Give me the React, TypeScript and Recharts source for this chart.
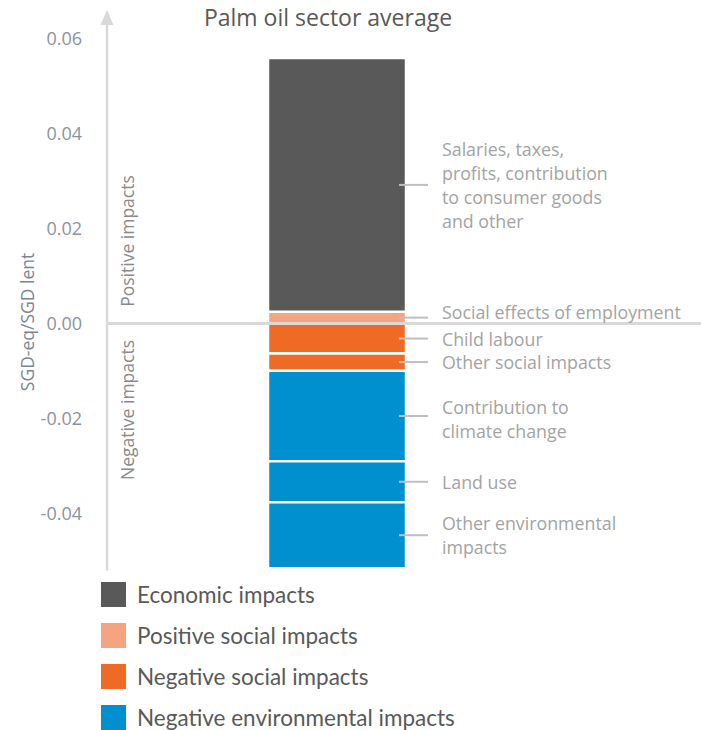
import React from 'react';
import { BarChart, Bar, XAxis, YAxis, ReferenceLine, LabelList } from 'recharts';

// ---- data ----
const categories = ['Palm oil sector average'];
const segmentKeys = ['socialEmployment', 'economic', 'childLabour', 'otherSocial', 'climate', 'landUse', 'otherEnv'];
const segmentValues = [0.0025, 0.0534, -0.0063, -0.0036, -0.0191, -0.0086, -0.0139];
const segmentGroups = [
  'Positive social impacts',
  'Economic impacts',
  'Negative social impacts',
  'Negative social impacts',
  'Negative environmental impacts',
  'Negative environmental impacts',
  'Negative environmental impacts',
];
const segmentLabels = [
  ['Social effects of employment'],
  ['Salaries, taxes,', 'profits, contribution', 'to consumer goods', 'and other'],
  ['Child labour'],
  ['Other social impacts'],
  ['Contribution to', 'climate change'],
  ['Land use'],
  ['Other environmental', 'impacts'],
];
const legendGroups = ['Economic impacts', 'Positive social impacts', 'Negative social impacts', 'Negative environmental impacts'];
const yTicks = [-0.04, -0.02, 0, 0.02, 0.04, 0.06];
const yDomain = [-0.052, 0.0656];

// ---- styles ----
const groupColors: Record<string, string> = {
  'Economic impacts': '#595959',
  'Positive social impacts': '#F4A47E',
  'Negative social impacts': '#EE6A25',
  'Negative environmental impacts': '#008FCF',
};
const labelTextDy = [-6, 0, 0, 0, 3, 0, 0];
const FONT = '"Open Sans", "DejaVu Sans", sans-serif';
const LEGEND_FONT = 'Lato, "Open Sans", sans-serif';

const row: Record<string, any> = { name: categories[0] };
segmentKeys.forEach((k, i) => (row[k] = segmentValues[i]));
const data = [row];

function SegmentLabel(props: any) {
  const { lines, dy } = props;
  const vb = props.viewBox && props.viewBox.width != null ? props.viewBox : props;
  const x = Number(vb.x), y = Number(vb.y), width = Number(vb.width), height = Number(vb.height);
  if (!isFinite(x) || !isFinite(y)) return null;
  const right = x + width;
  const midY = y + height / 2;
  const lh = 24;
  const textTop = midY + dy - ((lines.length - 1) * lh) / 2;
  return (
    <g>
      <line x1={right - 7} x2={right + 22} y1={midY} y2={midY} stroke="#bfbfbf" strokeWidth={2} />
      <text fill="#a3a3a3" fontSize={17.8} fontFamily={FONT} dominantBaseline="central">
        {lines.map((l: string, i: number) => (
          <tspan key={i} x={right + 36} y={textTop + i * lh}>
            {l}
          </tspan>
        ))}
      </text>
    </g>
  );
}

function AxisDecor(props: any) {
  const vb = props.viewBox || {};
  const axisX = vb.width != null ? vb.x + vb.width : 107;
  const top = vb.y != null ? vb.y : 12;
  return (
    <g>
      <polygon points={`${axisX},${top - 2} ${axisX - 6.5},${top + 13} ${axisX + 6.5},${top + 13}`} fill="#d9d9d9" />
      <text
        x={27}
        y={322}
        transform="rotate(-90 27 322)"
        textAnchor="middle"
        dominantBaseline="central"
        fill="#7d8590"
        fontSize={17.5}
        fontFamily={FONT}
      >
        SGD-eq/SGD lent
      </text>
      <text
        x={127}
        y={241}
        transform="rotate(-90 127 241)"
        textAnchor="middle"
        dominantBaseline="central"
        fill="#8a8a8a"
        fontSize={17.5}
        fontFamily={FONT}
      >
        Positive impacts
      </text>
      <text
        x={127}
        y={410}
        transform="rotate(-90 127 410)"
        textAnchor="middle"
        dominantBaseline="central"
        fill="#8a8a8a"
        fontSize={17.5}
        fontFamily={FONT}
      >
        Negative impacts
      </text>
      <text x={328} y={17} textAnchor="middle" dominantBaseline="central" fill="#595959" fontSize={23} fontFamily={FONT}>
        {categories[0]}
      </text>
    </g>
  );
}

export default function App() {
  return (
    <div style={{ position: 'absolute', left: 0, top: 0, width: 701, height: 730, background: '#fff', overflow: 'hidden' }}>
      <BarChart
        width={701}
        height={730}
        data={data}
        stackOffset="sign"
        barSize={138}
        margin={{ top: 12, right: 0, bottom: 159.4, left: 0 }}
      >
        <XAxis dataKey="name" hide padding={{ left: 0, right: 134 }} />
        <YAxis
          type="number"
          domain={yDomain}
          allowDataOverflow
          ticks={yTicks}
          width={107}
          tickSize={0}
          tickMargin={25}
          tickLine={false}
          axisLine={{ stroke: '#d9d9d9', strokeWidth: 2.5 }}
          tick={{ fill: '#8a93a0', fontSize: 18, fontFamily: FONT }}
          tickFormatter={(v: number) => v.toFixed(2)}
          label={<AxisDecor />}
        />
        {segmentKeys.map((k, i) => (
          <Bar
            key={k}
            dataKey={k}
            name={segmentLabels[i].join(' ')}
            stackId="a"
            fill={groupColors[segmentGroups[i]]}
            stroke="#ffffff"
            strokeWidth={2.5}
            isAnimationActive={false}
          >
            <LabelList dataKey={k} content={(p: any) => <SegmentLabel {...p} lines={segmentLabels[i]} dy={labelTextDy[i]} />} />
          </Bar>
        ))}
        <ReferenceLine y={0} stroke="#d9d9d9" strokeWidth={3} ifOverflow="visible" />
      </BarChart>
      <div style={{ position: 'absolute', left: 101, top: 573.5 }}>
        {legendGroups.map((g) => (
          <div key={g} style={{ display: 'flex', alignItems: 'center', height: 41 }}>
            <div style={{ width: 25, height: 25, background: groupColors[g], marginRight: 11, flexShrink: 0 }} />
            <span style={{ fontFamily: LEGEND_FONT, fontSize: 22.5, color: '#595959', lineHeight: '25px', whiteSpace: 'nowrap' }}>{g}</span>
          </div>
        ))}
      </div>
    </div>
  );
}
